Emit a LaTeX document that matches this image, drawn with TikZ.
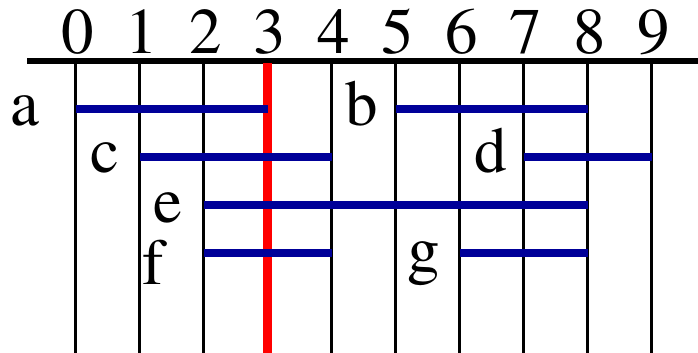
\documentclass[tikz,border=0pt]{standalone}
\usepackage{fontspec}
\newfontfamily\timesx{TeX Gyre Termes}
\definecolor{navy}{RGB}{0,0,153}
\tikzset{
  lbl/.style={anchor=base, inner sep=0pt, font=\timesx\fontsize{65}{65}\selectfont},
  grid/.style={line width=3pt, black},
  axis/.style={line width=5.5pt, black},
  cut/.style={line width=8.5pt, red},
  seg/.style={line width=8pt, navy},
}
\begin{document}
\begin{tikzpicture}[x=1pt,y=-1pt]
\useasboundingbox (0,0) rectangle (698,353);
% grid columns
\foreach \i in {0,...,9} {
  \coordinate (t\i) at ({75.5+64*\i},61);
  \coordinate (b\i) at ({75.5+64*\i},353);
  \node[lbl] (n\i) at ({77.5+64*\i},53) {\i};
}
\foreach \i in {0,1,2,4,5,6,7,8,9} { \draw[grid] (t\i) -- (b\i); }
\coordinate (axL) at (27,61);
\coordinate (axR) at (698,61);
\draw[axis] (axL) -- (axR);
\draw[cut] (t3) ++(0,2) -- (b3);
% segments
\foreach \n/\s/\e/\y in {a/0/3/109, b/5/8/109, c/1/4/157, d/7/9/157, e/2/8/205, f/2/4/253, g/6/8/253} {
  \coordinate (\n s) at ({75.5+64*\s},\y);
  \coordinate (\n e) at ({75.5+64*\e},\y);
  \draw[seg] (\n s) -- (\n e);
}
% labels
\node[lbl] (la) at (25,125) {a};
\node[lbl] (lb) at (362,125) {b};
\node[lbl] (lc) at (105,172) {c};
\node[lbl] (ld) at (491,172) {d};
\node[lbl] (le) at (168,222) {e};
\node[lbl] (lf) at (153,284) {f};
\node[lbl] (lg) at (424,271) {g};
\end{tikzpicture}
\end{document}
